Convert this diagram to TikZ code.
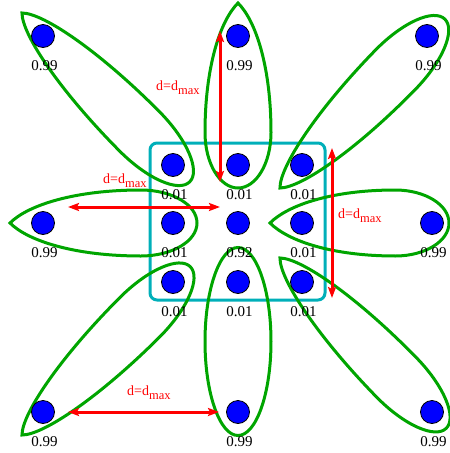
\documentclass[tikz,border=0pt]{standalone}
\usepackage{fontspec}
\setmainfont{Liberation Serif}
\usetikzlibrary{arrows.meta}
\definecolor{loopgreen}{RGB}{0,165,0}
\definecolor{framecyan}{RGB}{0,175,185}
\definecolor{beadblue}{RGB}{0,0,255}
\definecolor{distred}{RGB}{255,0,0}
\newcommand{\teardrop}[4]{%
  \draw[greenloop, shift={#1}, rotate=#2]
    (0,0) .. controls ({0.55*#4},{0.55*#4}) and ({0.35*#3},{#4}) .. ({0.7*#3},{#4})
          .. controls ({0.866*#3},{#4}) and ({#3},{0.552*#4}) .. ({#3},0)
          .. controls ({#3},{-0.552*#4}) and ({0.866*#3},{-#4}) .. ({0.7*#3},{-#4})
          .. controls ({0.35*#3},{-#4}) and ({0.55*#4},{-0.55*#4}) .. cycle;}
\newcommand{\dmax}{d=d\raisebox{-4pt}{\fontsize{12.5}{12.5}\selectfont max}}
\begin{document}
\begin{tikzpicture}[x=1pt,y=-1pt,
  bead/.style={circle, fill=beadblue, draw=black, line width=0.8pt, minimum size=23pt, inner sep=0pt},
  prob/.style={font=\fontsize{15}{15}\selectfont, text=black, inner sep=0pt},
  greenloop/.style={draw=loopgreen, line width=3pt},
  cyanframe/.style={draw=framecyan, line width=3pt, rounded corners=7pt},
  distarrow/.style={draw=distred, line width=3pt, {Stealth[length=11pt,width=8pt,inset=2pt]}-{Stealth[length=11pt,width=8pt,inset=2pt]}},
  distlabel/.style={text=distred, font=\fontsize{14}{14}\selectfont, inner sep=0pt, anchor=base west}]
\useasboundingbox (0,0) rectangle (450,453);
% frame
\draw[cyanframe] (150,143) rectangle (325,300);
% green loops
\teardrop{(22,13)}{-45.2}{238}{28}
\teardrop{(238,3)}{-90}{185}{33}
\teardrop{(280,188)}{45.7}{236}{28}
\teardrop{(10,223)}{0}{187}{33}
\teardrop{(270,223)}{0}{179}{33}
\teardrop{(22,435)}{45}{238}{28}
\draw[greenloop] (238,341.5) ellipse [x radius=33pt, y radius=94pt];
\teardrop{(280,258)}{-45.7}{238}{28}
% beads
\foreach \n/\x/\y/\p in {tl/43/36/0.99, tm/238/36/0.99, tr/427/36/0.99,
    ml/43/223/0.99, mr/432/223/0.99, bl/43/412/0.99, bm/238/412/0.99, br/432/412/0.99,
    c11/173/165/0.01, c12/238/165/0.01, c13/302/165/0.01,
    c21/173/223/0.01, c22/238/223/0.92, c23/302/223/0.01,
    c31/173/282/0.01, c32/238/282/0.01, c33/302/282/0.01}{
  \node[bead] (\n) at (\x,\y) {};
  \node[prob] (p\n) at ([shift={(1.5,30)}]\n.center) {\p};
}
% distance arrows
\coordinate (a1s) at (220,31);  \coordinate (a1e) at (220,182);
\coordinate (a2s) at (68,207);  \coordinate (a2e) at (220,207);
\coordinate (a3s) at (332,148); \coordinate (a3e) at (332,298);
\coordinate (a4s) at (68,412);  \coordinate (a4e) at (219,412);
\draw[distarrow] (a1s) -- (a1e);
\draw[distarrow] (a2s) -- (a2e);
\draw[distarrow] (a3s) -- (a3e);
\draw[distarrow] (a4s) -- (a4e);
\node[distlabel] (l1) at (156,90) {\dmax};
\node[distlabel] (l2) at (103,183) {\dmax};
\node[distlabel] (l3) at (338,218) {\dmax};
\node[distlabel] (l4) at (127,395) {\dmax};
\end{tikzpicture}
\end{document}
